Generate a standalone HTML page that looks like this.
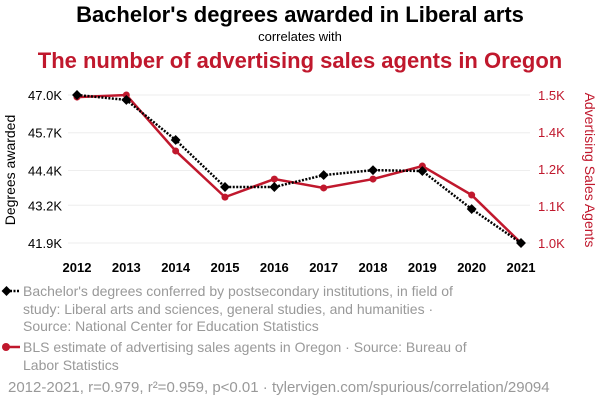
<!DOCTYPE html>
<html><head><meta charset="utf-8"><style>
body{margin:0;background:#fff;width:600px;height:408px;overflow:hidden;font-family:"Liberation Sans",sans-serif}
svg text{font-family:"Liberation Sans",sans-serif}
</style></head><body>
<svg width="600" height="408">
<text x="300" y="22" text-anchor="middle" font-size="22" font-weight="bold" fill="#000">Bachelor's degrees awarded in Liberal arts</text>
<text x="300" y="41" text-anchor="middle" font-size="13" fill="#000">correlates with</text>
<text x="300" y="68" text-anchor="middle" font-size="22" font-weight="bold" fill="#c0182d">The number of advertising sales agents in Oregon</text>
<g id="grid"></g><g id="axes"></g><g id="series"></g>
<text transform="translate(15,170) rotate(-90)" text-anchor="middle" font-size="14" fill="#000">Degrees awarded</text>
<text transform="translate(585,170) rotate(90)" text-anchor="middle" font-size="14" fill="#c0182d">Advertising Sales Agents</text>
<g>
<line x1="3" y1="291" x2="20" y2="291" stroke="#000" stroke-width="2.5" stroke-dasharray="2,1.5"/>
<rect x="3" y="287.5" width="7" height="7" transform="rotate(45 6.5 291)" fill="#000"/>
<text font-size="14" fill="#999"><tspan x="23" y="296">Bachelor's degrees conferred by postsecondary institutions, in field of</tspan><tspan x="23" y="314">study: Liberal arts and sciences, general studies, and humanities ·</tspan><tspan x="23" y="331">Source: National Center for Education Statistics</tspan></text></g>
<g>
<line x1="3" y1="347" x2="20" y2="347" stroke="#c0182d" stroke-width="2.5"/>
<circle cx="6" cy="347" r="4" fill="#c0182d"/>
<text font-size="14" fill="#999"><tspan x="23" y="352">BLS estimate of advertising sales agents in Oregon · Source: Bureau of</tspan><tspan x="23" y="370">Labor Statistics</tspan></text></g>
<text x="8" y="392" font-size="15" fill="#999">2012-2021, r=0.979, r²=0.959, p&lt;0.01 · tylervigen.com/spurious/correlation/29094</text>
</svg>
<script>
const years=[2012,2013,2014,2015,2016,2017,2018,2019,2020,2021];
const degrees=[47.0,46.83,45.45,43.83,43.83,44.24,44.41,44.38,43.07,41.9];
const agents=[1493,1500,1311,1155,1216,1186,1216,1260,1162,1000];
const leftTicks=[41.9,43.2,44.4,45.7,47.0];
const leftLabels=["41.9K","43.2K","44.4K","45.7K","47.0K"];
const rightTicks=[1000,1125,1250,1375,1500];
const rightLabels=["1.0K","1.1K","1.2K","1.4K","1.5K"];
const NS="http://www.w3.org/2000/svg";
const x=i=>77+(521-77)*(years[i]-2012)/9;
const yL=v=>243-(v-41.9)/(47.0-41.9)*148;
const yR=v=>243-(v-1000)/500*148;
function mk(t,a,p){const e=document.createElementNS(NS,t);for(const k in a)e.setAttribute(k,a[k]);document.getElementById(p).appendChild(e);return e;}
leftTicks.forEach((v,i)=>{
const g=mk('line',{x1:68,x2:530,y1:yL(v),y2:yL(v),stroke:'#eee'},'grid');


const t=mk('text',{x:62,y:yL(v)+5,'text-anchor':'end','font-size':13,fill:'#000'},'axes');t.textContent=leftLabels[i];


});
rightTicks.forEach((v,i)=>{
const t=mk('text',{x:538,y:yR(v)+5,'font-size':13,fill:'#c0182d'},'axes');t.textContent=rightLabels[i];


});
years.forEach((yr,i)=>{
const t=mk('text',{x:x(i),y:272,'text-anchor':'middle','font-size':13,'font-weight':'bold',fill:'#000'},'axes');t.textContent=yr;


});
const pr=mk('polyline',{points:agents.map((v,i)=>x(i)+','+yR(v)).join(' '),fill:'none',stroke:'#c0182d','stroke-width':2.5},'series');


agents.forEach((v,i)=>{const c=mk('circle',{cx:x(i),cy:yR(v),r:3.5,fill:'#c0182d'},'series');

});
const pb=mk('polyline',{points:degrees.map((v,i)=>x(i)+','+yL(v)).join(' '),fill:'none',stroke:'#000','stroke-width':2.5,'stroke-dasharray':'2,1.5'},'series');


degrees.forEach((v,i)=>{const r=mk('rect',{x:x(i)-3.5,y:yL(v)-3.5,width:7,height:7,fill:'#000',transform:`rotate(45 ${x(i)} ${yL(v)})`},'series');

});
</script>
</body></html>
